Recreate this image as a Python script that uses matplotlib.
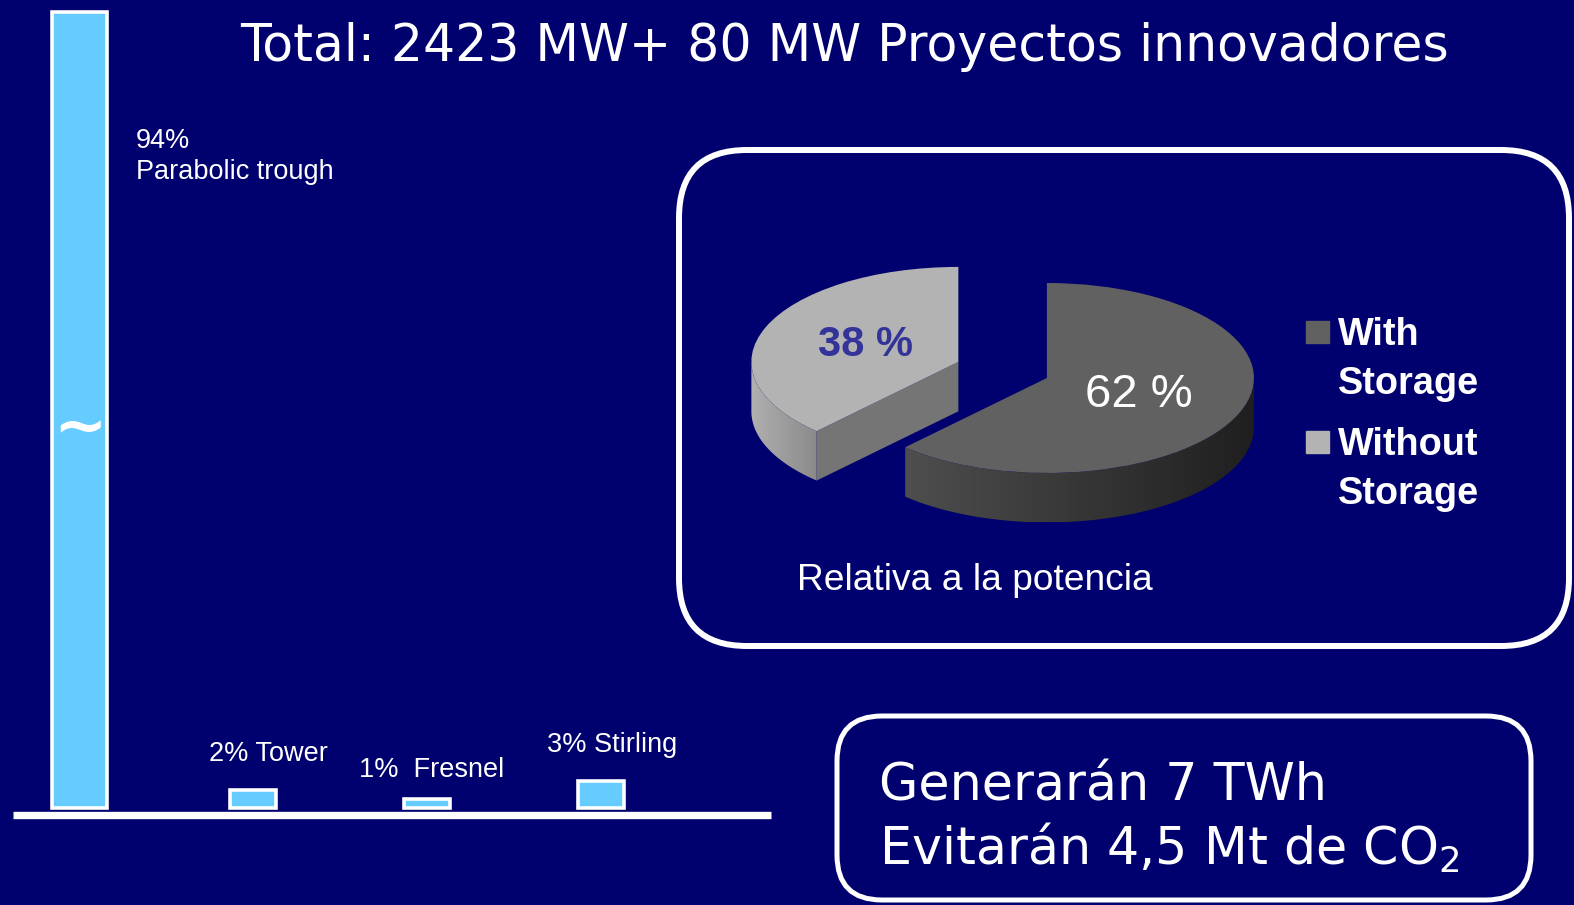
import matplotlib
matplotlib.use('Agg')
import numpy as np
import matplotlib.pyplot as plt
from matplotlib.patches import FancyBboxPatch, Rectangle, Polygon
from matplotlib.colors import LinearSegmentedColormap

# ---------------- data ----------------
tech = ['Parabolic trough', 'Tower', 'Fresnel', 'Stirling']
share = [94, 2, 1, 3]
bar_labels = ['94%\nParabolic trough', '2% Tower', '1%  Fresnel', '3% Stirling']
storage_labels = ['With\nStorage', 'Without\nStorage']
storage_share = [62, 38]
title = 'Total: 2423 MW+ 80 MW Proyectos innovadores'
pie_note = 'Relativa a la potencia'
box_lines = ['Generarán 7 TWh', 'Evitarán 4,5 Mt de CO$_2$']

# ---------------- figure ----------------
W, H = 1574, 905
BG = '#00006e'
fig = plt.figure(figsize=(W / 100, H / 100), dpi=100, facecolor=BG)
ARIAL = 'Liberation Sans'
GOTHIC = 'DejaVu Sans'

# ---------------- bar chart ----------------
ax = fig.add_axes([13 / W, 1 - 815.2 / H, 758 / W, 815.2 / H])
ax.set_facecolor('none')
ax.set_xlim(-0.383, 3.981)
ax.set_ylim(-0.85, 89.73)
BREAK = 88.4  # axis break: the tall bar is cut at this display height
x = list(range(len(tech)))
disp = [min(v, BREAK) for v in share]
widths = [0.312, 0.266, 0.266, 0.266]
ax.bar(x, disp, width=widths, color='#66ccff', edgecolor='white',
       linewidth=2.6, clip_on=False)
for s in ['top', 'right', 'left']:
    ax.spines[s].set_visible(False)
ax.spines['bottom'].set_color('white')
ax.spines['bottom'].set_linewidth(5.3)
ax.spines['bottom'].set_capstyle('butt')
ax.set_xticks([])
ax.set_yticks([])

# break marker on the tall bar
ax.text(0, 42.1, '~', ha='center', va='center', color='white',
        fontsize=46, family=GOTHIC, weight='bold')

label_style = [(56, -144.5, 'left'), (15, 35.5, 'center'),
               (5, 28.5, 'center'), (12, 35.5, 'center')]
for xi, v, lab, (dx, dy, ha) in zip(x, disp, bar_labels, label_style):
    ax.annotate(lab, xy=(xi, v), xytext=(dx, dy), textcoords='offset pixels',
                ha=ha, va='center', color='white', fontsize=19.5,
                family=ARIAL, linespacing=1.28)

# ---------------- pie chart (3D look) ----------------
pax = fig.add_axes([695 / W, 1 - 539.5 / H, 621 / W, 285 / H])
colors_top = ['#616161', '#b3b3b3']
side_grad = [('#4e4e4e', '#1f1f1f'), ('#b0b0b0', '#8a8a8a')]
cut_color = '#757575'
explode = [0, 0.46]
depth = 0.52

wedges, texts, autotexts = pax.pie(
    storage_share, explode=explode, colors=colors_top, startangle=90,
    counterclock=False, autopct='%.0f %%', pctdistance=0.48,
    wedgeprops=dict(linewidth=0))
for w in wedges:
    w.set_zorder(3)
autotexts[0].set(color='white', fontsize=34, family=ARIAL, zorder=4)
autotexts[1].set(color='#333399', fontsize=30, family=ARIAL, weight='bold',
                 zorder=4)


def arc_pts(cx, cy, t1, t2, r, n=150):
    t = np.radians(np.linspace(t1, t2, n))
    return np.column_stack([cx + r * np.cos(t), cy + r * np.sin(t)])


def front_range(t1, t2):
    ts = np.linspace(t1, t2, 3000)
    m = np.sin(np.radians(ts)) < 0
    return ts[m].min(), ts[m].max()


def gradient_fill(axis, xy, c_left, c_right, z):
    poly = Polygon(xy, closed=True, fc='none', ec='none',
                   transform=axis.transData)
    axis.add_patch(poly)
    x0, x1 = xy[:, 0].min(), xy[:, 0].max()
    y0, y1 = xy[:, 1].min(), xy[:, 1].max()
    cmap = LinearSegmentedColormap.from_list('g', [c_left, c_right])
    im = axis.imshow(np.linspace(0, 1, 256)[None, :], cmap=cmap,
                     extent=(x0, x1, y0, y1), aspect='auto', zorder=z,
                     interpolation='bilinear')
    im.set_clip_path(poly)


for w, (cl, cr) in zip(wedges, side_grad):
    cx, cy = w.center
    a, b = front_range(w.theta1, w.theta2)
    top = arc_pts(cx, cy, a, b, w.r)
    bot = arc_pts(cx, cy - depth, b, a, w.r)
    gradient_fill(pax, np.vstack([top, bot]), cl, cr, 1.5)

# visible cut face of the exploded slice
w = wedges[1]
cx, cy = w.center
t = np.radians(w.theta2)
px_, py_ = cx + w.r * np.cos(t), cy + w.r * np.sin(t)
pax.add_patch(Polygon([(cx, cy), (px_, py_), (px_, py_ - depth),
                       (cx, cy - depth)], closed=True, fc=cut_color,
                      ec='none', zorder=1.6))

pax.set_aspect('auto')
pax.set_xlim(-1.7, 1.3)
pax.set_ylim(-1.7, 1.3)
pax.axis('off')

# legend
for lab, col, ytop in zip(storage_labels, colors_top, [321, 431]):
    fig.add_artist(Rectangle((1306 / W, 1 - (ytop + 22) / H), 23 / W, 22 / H,
                             transform=fig.transFigure, color=col))
    fig.text(1338 / W, 1 - (ytop - 4) / H, lab, ha='left', va='top',
             color='white', fontsize=27.3, weight='bold', family=ARIAL,
             linespacing=1.45)

fig.text(974.5 / W, 1 - 580 / H, pie_note, ha='center', va='center',
         color='white', fontsize=26.7, family=ARIAL)

# ---------------- rounded boxes ----------------
fig.add_artist(FancyBboxPatch((6.79, (905 - 646) / 100), 15.69 - 6.79,
                              (646 - 150) / 100,
                              boxstyle='round,pad=0,rounding_size=0.68',
                              transform=fig.dpi_scale_trans, fc='none',
                              ec='white', lw=4.3))
fig.add_artist(FancyBboxPatch((8.37, 0.05), 15.31 - 8.37, 1.84,
                              boxstyle='round,pad=0,rounding_size=0.45',
                              transform=fig.dpi_scale_trans, fc='none',
                              ec='white', lw=3.6))

fig.text(879 / W, 1 - 800 / H, box_lines[0], ha='left', va='baseline',
         color='white', fontsize=36.5, family=GOTHIC)
fig.text(879 / W, 1 - 865 / H, box_lines[1], ha='left', va='baseline',
         color='white', fontsize=36.5, family=GOTHIC)

# ---------------- title ----------------
fig.text(845 / W, 1 - 60.5 / H, title, ha='center', va='baseline',
         color='white', fontsize=36.4, family=GOTHIC)

fig.savefig('out.png', dpi=100, facecolor=BG)
